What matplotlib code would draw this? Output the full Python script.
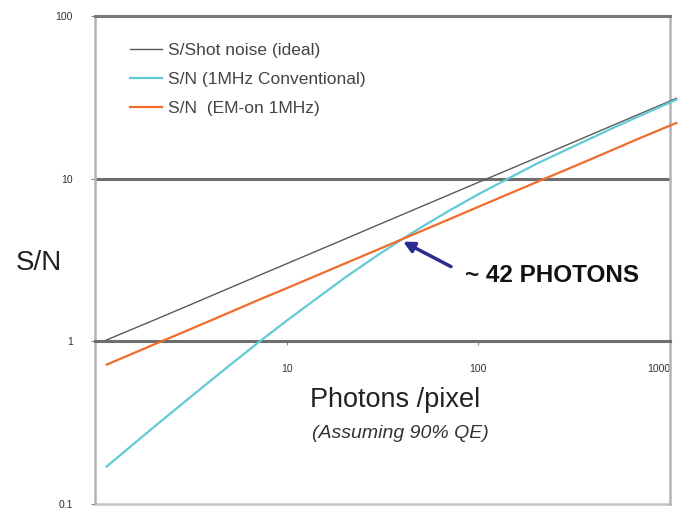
import matplotlib
matplotlib.use("Agg")
import matplotlib.pyplot as plt

plt.rcParams['font.family'] = ['Liberation Sans', 'DejaVu Sans']

# photons per pixel
photons = [1.15, 2, 3, 5, 7, 10, 20, 30, 42, 50, 70, 100, 150, 200, 300, 500, 700, 1000, 1080]

# S/N curves
sn_ideal = [1.02, 1.34, 1.64, 2.12, 2.51, 3.00, 4.24, 5.20, 6.15, 6.71, 7.94, 9.49,
            11.6, 13.4, 16.4, 21.2, 25.1, 30.0, 31.2]
sn_conv = [0.170, 0.293, 0.434, 0.707, 0.969, 1.34, 2.45, 3.40, 4.40, 5.00, 6.33, 8.02,
           10.3, 12.3, 15.4, 20.4, 24.4, 29.4, 30.6]
sn_em = [0.719, 0.949, 1.16, 1.50, 1.78, 2.12, 3.00, 3.67, 4.35, 4.74, 5.61, 6.71,
         8.22, 9.49, 11.6, 15.0, 17.8, 21.2, 22.0]

labels = ['S/Shot noise (ideal)', 'S/N (1MHz Conventional)', 'S/N  (EM-on 1MHz)']
colors = ['#5a5a5a', '#62cad6', '#f06c2c']

yticks = [0.1, 1, 10, 100]
ytick_labels = ['0.1', '1', '10', '100']
xticks = [10, 100, 1000]
xtick_labels = ['10', '100', '1000']

W, H = 678, 513
fig = plt.figure(figsize=(W / 100, H / 100), dpi=100)
ax = fig.add_axes([95 / W, 9 / H, 575 / W, 488 / H])

ax.set_xscale('log')
ax.set_yscale('log')
ax.set_xlim(1, 1000)
ax.set_ylim(0.1, 100)

for ys, lab, col in zip([sn_ideal, sn_conv, sn_em], labels, colors):
    lw = 1.0 if col == '#5a5a5a' else 1.6
    ax.plot(photons, ys, color=col, lw=lw, label=lab, clip_on=False, zorder=3)

# frame
ax.spines['bottom'].set_position(('data', 1))
ax.spines['bottom'].set_color('#6e6e6e')
ax.spines['bottom'].set_linewidth(2.2)
ax.spines['top'].set_color('#7a7a7a')
ax.spines['top'].set_linewidth(2.2)
ax.spines['left'].set_color('#b4b4b4')
ax.spines['left'].set_linewidth(1.8)
ax.spines['right'].set_color('#b4b4b4')
ax.spines['right'].set_linewidth(1.8)
ax.axhline(10, color='#6e6e6e', lw=2.2, zorder=2)
ax.axhline(0.1, color='#c4c4c4', lw=1.8, clip_on=False, zorder=2)

ax.minorticks_off()
ax.set_yticks(yticks, labels=ytick_labels)
ax.set_xticks(xticks, labels=xtick_labels)
ax.tick_params(axis='y', length=3, pad=13, labelsize=7.5, color='#8a8a8a', labelcolor='#333333')
ax.tick_params(axis='x', length=3, pad=13, labelsize=7.5, color='#8a8a8a', labelcolor='#333333')
ax.get_xticklabels()[-1].set_horizontalalignment('right')

leg = ax.legend(loc='upper left', bbox_to_anchor=(130 / W, 1 - 43 / H),
                bbox_transform=fig.transFigure, frameon=False, fontsize=12.5,
                handlelength=1.85, handletextpad=0.35, labelspacing=0.8,
                borderpad=0, borderaxespad=0)
for t in leg.get_texts():
    t.set_color('#444444')

fig.text(39 / W, 1 - 263 / H, 'S/N', fontsize=20, ha='center', va='center', color='#222222')
fig.text(395 / W, 1 - 400 / H, 'Photons /pixel', fontsize=19.5, ha='center', va='center',
         color='#222222')
fig.text(400 / W, 1 - 434 / H, '(Assuming 90% QE)', fontsize=14, style='italic',
         ha='center', va='center', color='#333333')

ax.annotate('', xy=(40.5, 4.1), xytext=(72, 2.88),
            arrowprops=dict(arrowstyle='-|>', color='#2a2d8f', lw=2.5, mutation_scale=16,
                            shrinkA=0, shrinkB=0))
fig.text(465 / W, 1 - 276 / H, '~ 42 PHOTONS', fontsize=17.5, fontweight='bold',
         ha='left', va='center', color='#111111')

fig.savefig('out.png', dpi=100)
